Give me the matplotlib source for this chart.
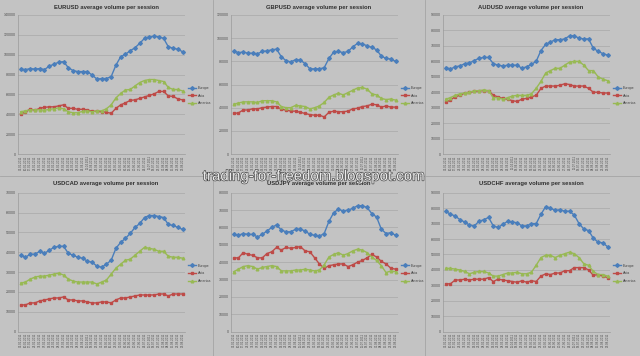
import matplotlib.pyplot as plt
import matplotlib.patheffects as pe

# weekly sessions (labels are unreadable in the source, weekly dates assumed)
dates = ['03.01.2011', '10.01.2011', '17.01.2011', '24.01.2011', '31.01.2011',
         '07.02.2011', '14.02.2011', '21.02.2011', '28.02.2011', '07.03.2011',
         '14.03.2011', '21.03.2011', '28.03.2011', '04.04.2011', '11.04.2011',
         '18.04.2011', '25.04.2011', '02.05.2011', '09.05.2011', '16.05.2011',
         '23.05.2011', '30.05.2011', '06.06.2011', '13.06.2011', '20.06.2011',
         '27.06.2011', '04.07.2011', '11.07.2011', '18.07.2011', '25.07.2011',
         '01.08.2011', '08.08.2011', '15.08.2011', '22.08.2011', '29.08.2011']

pairs = ['EURUSD', 'GBPUSD', 'AUDUSD', 'USDCAD', 'USDJPY', 'USDCHF']
y_max = [140000, 120000, 90000, 70000, 80000, 90000]
y_step = [20000, 20000, 10000, 10000, 10000, 10000]
sessions = ['Europe', 'Asia', 'America']

eurusd_europe = [85500, 85000, 86000, 85500, 86000, 85000, 88500, 90500, 92500, 93000,
                 87000, 84000, 83000, 83000, 83000, 79500, 75500, 76000, 76000, 78000,
                 89500, 98000, 100500, 104000, 107000, 111500, 116500, 118000, 118500, 118000,
                 116500, 108000, 106500, 105500, 103000]
eurusd_asia = [40500, 42000, 45500, 44000, 46000, 47000, 47500, 47500, 48500, 49500,
               46000, 46000, 45000, 45000, 44500, 43000, 43000, 42500, 42000, 41000,
               46000, 49500, 51500, 54000, 54500, 56000, 57500, 59000, 60500, 63000,
               63000, 58500, 58000, 55500, 54500]
eurusd_america = [42500, 43500, 44500, 44500, 44500, 44000, 45000, 45500, 46500, 45500,
                  42500, 41500, 41500, 43000, 43500, 42500, 43500, 43500, 45500, 49500,
                  56500, 61000, 64500, 65000, 68500, 72000, 74000, 75000, 75000, 74000,
                  73000, 67000, 65000, 65000, 63500]

gbpusd_europe = [89000, 87500, 88000, 87000, 87000, 86500, 88500, 89000, 90000, 90500,
                 84000, 80500, 79500, 81500, 81000, 78000, 73500, 73500, 73500, 74500,
                 82500, 88000, 88500, 87500, 88500, 92500, 95500, 95000, 93500, 92000,
                 90000, 84500, 82500, 82000, 80000]
gbpusd_asia = [35000, 35500, 38000, 38000, 39000, 39000, 40000, 40500, 41000, 41000,
               38500, 38000, 37000, 37000, 36000, 35000, 34000, 33500, 33500, 32000,
               36000, 37000, 36500, 36500, 37000, 39000, 39500, 41000, 41500, 43000,
               42500, 40500, 41500, 40500, 40500]
gbpusd_america = [43000, 44000, 45000, 45000, 45000, 44500, 46000, 46000, 46000, 45000,
                  41000, 40000, 40000, 42000, 41500, 41000, 39000, 40000, 41500, 44500,
                  49000, 51000, 52500, 51000, 53000, 55000, 57000, 57500, 56000, 52000,
                  51000, 48000, 47000, 47500, 46500]

audusd_europe = [56000, 55000, 56500, 57000, 58500, 59000, 60500, 62000, 62500, 62500,
                 58500, 57500, 57000, 57500, 57500, 57500, 55500, 56500, 58000, 60000,
                 67000, 71000, 72500, 74000, 74000, 74500, 76500, 76500, 75000, 74500,
                 74500, 68500, 66500, 65000, 64000]
audusd_asia = [33500, 35000, 37000, 38000, 39500, 40000, 40500, 41000, 41000, 41000,
               38000, 37000, 36000, 35500, 34500, 34000, 35500, 36000, 37000, 38000,
               42500, 44000, 44000, 44000, 44500, 45500, 45000, 44000, 44000, 44000,
               42500, 40000, 40000, 39500, 39500]
audusd_america = [35500, 36500, 38000, 39000, 39500, 40000, 41000, 41000, 41500, 41000,
                  36500, 36500, 35500, 36500, 37500, 38000, 38000, 38000, 39000, 42500,
                  47000, 52500, 54000, 55500, 55500, 57500, 59500, 60000, 60000, 57500,
                  54000, 54000, 50000, 48500, 47500]

usdcad_europe = [38500, 37500, 39000, 39000, 40500, 39500, 41000, 42500, 43000, 43000,
                 39500, 38500, 37500, 37000, 35500, 35000, 33000, 32500, 34000, 36000,
                 42000, 45000, 47000, 49500, 52500, 54500, 57500, 58500, 58500, 58000,
                 57500, 54000, 53500, 52500, 51500]
usdcad_asia = [13500, 13500, 14500, 14500, 15500, 16000, 16500, 17000, 17000, 17500,
               16000, 16000, 15500, 15500, 15000, 14500, 14500, 15000, 15000, 14500,
               16000, 17000, 17000, 17500, 18000, 18500, 18500, 18500, 18500, 19000,
               19000, 18000, 19000, 19000, 19000]
usdcad_america = [24500, 25000, 26500, 27500, 28000, 28000, 28500, 29000, 29500, 28500,
                  26500, 25500, 25000, 25000, 25000, 25000, 24000, 25000, 26000, 29000,
                  32000, 34000, 36000, 36500, 38500, 40500, 42500, 42000, 41500, 40500,
                  40500, 38000, 37500, 37500, 37000]

usdjpy_europe = [56000, 55500, 56500, 56000, 56000, 54500, 56000, 58000, 60000, 61500,
                 58500, 57500, 57500, 59000, 59000, 58000, 56000, 55500, 55000, 56500,
                 63500, 68500, 70500, 69500, 70000, 71000, 72500, 72500, 71500, 68000,
                 66000, 59000, 56500, 57000, 55500]
usdjpy_asia = [42500, 42500, 45500, 44500, 44000, 42500, 42500, 45000, 46000, 48500,
               47000, 48500, 48000, 48500, 49000, 46500, 46000, 42500, 39000, 36500,
               38000, 38500, 39000, 39000, 37500, 38500, 40000, 41000, 42500, 44500,
               43000, 40500, 39000, 36500, 36000]
usdjpy_america = [34500, 36000, 37500, 38000, 37500, 36000, 37000, 37500, 38000, 37500,
                  35000, 35000, 35000, 35500, 35500, 36000, 35500, 35000, 35500, 38500,
                  43000, 44500, 45500, 44000, 45000, 46500, 47500, 47000, 45500, 43000,
                  41000, 38000, 34000, 35000, 34500]

usdchf_europe = [78000, 76000, 75000, 72500, 71000, 69000, 68500, 71500, 72500, 74000,
                 68500, 67500, 69500, 71500, 71000, 70500, 68500, 68500, 70000, 70000,
                 76000, 81000, 80000, 78500, 79000, 78000, 78000, 75500, 70000, 66500,
                 65500, 60500, 58000, 57500, 55000]
usdchf_asia = [31000, 31000, 33500, 33500, 34000, 33500, 34000, 34000, 34000, 35000,
               32500, 34000, 33500, 33000, 32500, 32000, 33000, 32000, 33000, 32500,
               36000, 37500, 37000, 38000, 38000, 39500, 39500, 41500, 41500, 41500,
               40000, 36500, 37000, 36000, 35000]
usdchf_america = [41000, 41000, 40500, 40000, 39000, 37500, 38500, 39000, 39000, 38000,
                  36000, 36000, 37000, 38000, 38000, 38500, 37500, 37500, 38500, 43000,
                  48000, 49500, 49500, 48000, 49500, 50500, 51500, 50500, 48000, 44000,
                  43000, 39000, 37000, 37000, 36000]

series = [
    (eurusd_europe, eurusd_asia, eurusd_america),
    (gbpusd_europe, gbpusd_asia, gbpusd_america),
    (audusd_europe, audusd_asia, audusd_america),
    (usdcad_europe, usdcad_asia, usdcad_america),
    (usdjpy_europe, usdjpy_asia, usdjpy_america),
    (usdchf_europe, usdchf_asia, usdchf_america),
]

colors = ['#4a7ebb', '#be4b48', '#98b954']
markers = ['D', 's', '^']
bg = '#c3c3c3'

W, H = 640, 356
fig = plt.figure(figsize=(6.4, 3.56), dpi=100, facecolor=bg)
plt.rcParams['font.family'] = ['Liberation Sans', 'DejaVu Sans']

col_x = [0, 213, 425]
row_y = [0, 176]
row_top = [15, 16.7]

for i, pair in enumerate(pairs):
    cx = col_x[i % 3]
    ry = row_y[i // 3]
    top = ry + row_top[i // 3]
    ax = fig.add_axes([(cx + 18.3) / W, 1 - (top + 139) / H, 166.7 / W, 139 / H])
    ax.set_facecolor(bg)

    x = list(range(len(dates)))
    for vals, name, c, m in zip(series[i], sessions, colors, markers):
        ax.plot(x, vals, color=c, lw=1.0, marker=m, ms=1.9, mec=c, mfc=c, label=name)

    ax.set_xlim(-0.5, len(dates) - 0.5)
    ax.set_ylim(0, y_max[i])
    ax.set_yticks(range(0, y_max[i] + 1, y_step[i]))
    ax.yaxis.grid(True, color='#a9a9a9', lw=0.5)
    ax.set_axisbelow(True)
    ax.set_xticks(x)
    ax.set_xticklabels(dates, rotation=90, fontsize=2.1, color='#505050')
    ax.tick_params(axis='y', labelsize=2.6, labelcolor='#505050', length=0, pad=1.5)
    ax.tick_params(axis='x', length=0, pad=1)
    for s in ['top', 'right']:
        ax.spines[s].set_visible(False)
    for s in ['left', 'bottom']:
        ax.spines[s].set_color('#9a9a9a')
        ax.spines[s].set_linewidth(0.5)

    fig.text((cx + 106) / W, 1 - (ry + 7.5) / H, pair + ' average volume per session',
             ha='center', va='center', fontsize=4.2, fontweight='bold', color='#303030')

    ax.legend(loc='center left', bbox_to_anchor=(1.0, 0.42), fontsize=2.6, frameon=False,
              handlelength=2.2, handletextpad=0.4, labelspacing=1.0, markerscale=1.0,
              labelcolor='#404040')

# panel separators
for xs in [213, 425]:
    fig.add_artist(plt.Line2D([xs / W, xs / W], [0, 1], color='#a5a5a5', lw=0.6))
fig.add_artist(plt.Line2D([0, 1], [1 - 176 / H, 1 - 176 / H], color='#a5a5a5', lw=0.6))

# watermark (overlaps the USDJPY title in the source too)
wm = fig.text(314 / W, 1 - 176.5 / H, 'trading-for-freedom.blogspot.com', ha='center', va='center',
              fontsize=10.8, color='#ececec', zorder=10)
wm.set_path_effects([pe.withStroke(linewidth=0.9, foreground='#404040')])

fig.savefig('out.png', dpi=100, facecolor=bg)
